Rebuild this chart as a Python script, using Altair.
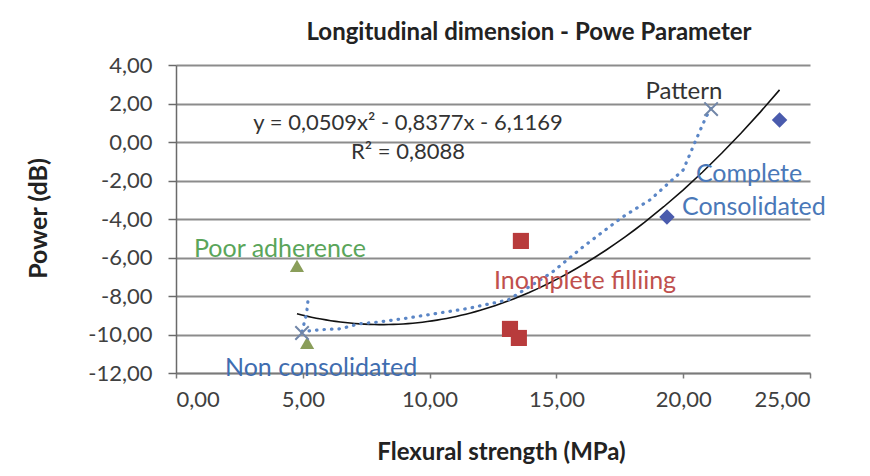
import altair as alt
import pandas as pd

# ---------------- data ----------------
complete_x = [19.36, 23.8]
complete_y = [-3.9, 1.14]
incomplete_x = [13.6, 13.17, 13.52]
incomplete_y = [-5.14, -9.71, -10.18]
poor_x = [4.77, 5.17]
poor_y = [-6.44, -10.44]
pattern_x = [21.1, 4.97]
pattern_y = [1.71, -9.92]

# dotted (smoothed) line, read point by point along its path
dotted_x = [5.2, 5.15, 4.97, 5.7, 6.5, 7.2, 8.0, 9.1, 11.5, 13.1, 14.8, 16.0, 17.6, 18.7, 20.0, 20.5, 20.9, 21.1]
dotted_y = [-8.3, -8.9, -9.85, -9.75, -9.7, -9.45, -9.35, -9.15, -8.65, -8.2, -6.8, -5.5, -3.9, -3.0, -1.45, 0.1, 1.3, 1.75]

x_ticks = [0, 5, 10, 15, 20, 25]
y_ticks = [-12, -10, -8, -6, -4, -2, 0, 2, 4]

left_labels = ["Complete", "Consolidated", "Poor adherence", "Inomplete filliing", "Non consolidated"]
left_label_x = [20.5, 19.95, 0.71, 12.54, 1.93]
left_label_y = [-1.66, -3.38, -5.56, -7.22, -11.74]

pattern_label = ["Pattern"]
pattern_label_x = [20.03]
pattern_label_y = [2.6]

eq_labels = ["y = 0,0509x² - 0,8377x - 6,1169", "R² = 0,8088"]
eq_label_x = [9.15, 9.15]
eq_label_y = [0.99, -0.52]

# ---------------- styles ----------------
FONT = "Lato"
left_label_colors = ["#4a78b8", "#4a78b8", "#5aa55a", "#c0504d", "#3f6db0"]

points = pd.DataFrame({
    "x": complete_x + incomplete_x + poor_x + pattern_x,
    "y": complete_y + incomplete_y + poor_y + pattern_y,
    "series": ["Complete"] * len(complete_x) + ["Incomplete"] * len(incomplete_x)
              + ["Poor"] * len(poor_x) + ["Pattern"] * len(pattern_x),
})
dotted = pd.DataFrame({"x": dotted_x, "y": dotted_y, "order": list(range(len(dotted_x)))})
left_df = pd.DataFrame({"text": left_labels, "x": left_label_x, "y": left_label_y})
pattern_df = pd.DataFrame({"text": pattern_label, "x": pattern_label_x, "y": pattern_label_y})
eq_df = pd.DataFrame({"text": eq_labels, "x": eq_label_x, "y": eq_label_y})

label_expr = "(datum.value < 0 ? '-' : '') + replace(format(abs(datum.value), '.2f'), '.', ',')"

x_scale = alt.Scale(domain=[0, 25], nice=False, zero=False)
y_scale = alt.Scale(domain=[-12, 4], nice=False, zero=False)

x_axis = alt.Axis(
    values=x_ticks, labelExpr=label_expr, grid=False, labelOverlap=False,
    domainColor="#7a7a7a", domainWidth=1.5, tickColor="#7a7a7a", tickWidth=1.5, tickSize=5,
    labelFont=FONT, labelFontSize=22, labelColor="#404040", labelPadding=11,
    title="Flexural strength (MPa)", titleFont=FONT, titleFontSize=24, titleFontWeight="bold",
    titleColor="#222222", titleX=325, titleY=79, titleBaseline="middle",
)
y_axis = alt.Axis(
    values=y_ticks, labelExpr=label_expr, grid=True, gridColor="#8c8c8c", gridWidth=2,
    labelOverlap=False,
    domainColor="#6a6a6a", domainWidth=1.5, tickColor="#6a6a6a", tickWidth=1.5, tickSize=8,
    labelFont=FONT, labelFontSize=22, labelColor="#404040", labelPadding=16,
    title="Power (dB)", titleFont=FONT, titleFontSize=25, titleFontWeight="bold",
    titleColor="#222222", titleX=-138, titleY=153, titleBaseline="middle",
)

X = alt.X("x:Q", scale=x_scale, axis=x_axis)
Y = alt.Y("y:Q", scale=y_scale, axis=y_axis)

base = alt.Chart(points)

trend = base.transform_regression("x", "y", method="poly", order=2).mark_line(
    color="#111111", strokeWidth=1.6
).encode(x=X, y=Y)

dots = alt.Chart(dotted).mark_line(
    color="#5b86c6", strokeWidth=3.2, strokeDash=[0.5, 7], strokeCap="round", interpolate="linear"
).encode(x=X, y=Y, order="order:Q")

diamonds = base.transform_filter(alt.datum.series == "Complete").mark_point(
    shape="diamond", filled=True, size=240, color="#4a5bad", opacity=1
).encode(x=X, y=Y)
squares = base.transform_filter(alt.datum.series == "Incomplete").mark_point(
    shape="square", filled=True, size=260, color="#b83b3c", opacity=1
).encode(x=X, y=Y)
triangles = base.transform_filter(alt.datum.series == "Poor").mark_point(
    shape="triangle-up", filled=True, size=200, color="#8a9e5a", opacity=1
).encode(x=X, y=Y)
crosses = base.transform_filter(alt.datum.series == "Pattern").mark_point(
    shape="M-1,-1L1,1M-1,1L1,-1", filled=False, size=180, color="#7186a8", strokeWidth=2, opacity=1
).encode(x=X, y=Y)

left_text = alt.Chart(left_df).mark_text(
    align="left", baseline="middle", font=FONT, fontSize=25
).encode(
    x=X, y=Y, text="text:N",
    color=alt.Color("text:N", scale=alt.Scale(domain=left_labels, range=left_label_colors), legend=None),
)
pattern_text = alt.Chart(pattern_df).mark_text(
    align="center", baseline="middle", font=FONT, fontSize=24, color="#333333"
).encode(x=X, y=Y, text="text:N")
eq_text = alt.Chart(eq_df).mark_text(
    align="center", baseline="middle", font=FONT, fontSize=22, color="#333333"
).encode(x=X, y=Y, text="text:N")

chart = alt.layer(
    trend, dots, diamonds, squares, triangles, crosses, left_text, pattern_text, eq_text
).properties(
    width=634, height=308,
    title=alt.TitleParams(
        "Longitudinal dimension - Powe Parameter", font=FONT, fontSize=24, fontWeight="bold",
        color="#222222", anchor="middle", dx=36, offset=9,
    ),
    autosize=alt.AutoSizeParams(type="none"),
    padding={"left": 168, "top": 57, "right": 46, "bottom": 95},
    background="white",
).configure_view(stroke=None)

chart.save("out.html", embed_options={"renderer": "svg", "actions": False})
